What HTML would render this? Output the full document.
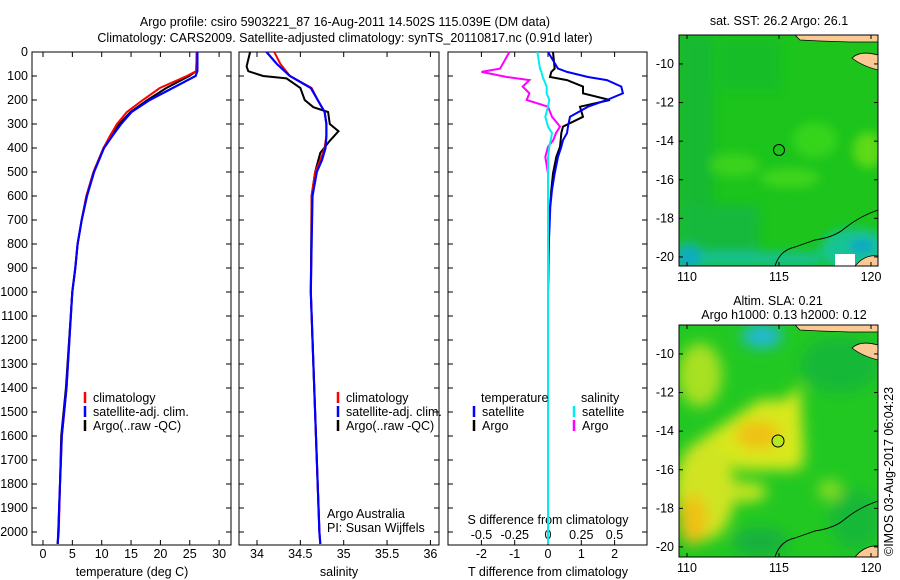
<!DOCTYPE html>
<html><head><meta charset="utf-8">
<style>
html,body{margin:0;padding:0;background:#fff;}
svg{display:block;font-family:"Liberation Sans",sans-serif;}
text{font-size:12.5px;fill:#000;}
</style></head>
<body>
<svg id="c" width="900" height="580" viewBox="0 0 900 580">
<text x="345" y="26" text-anchor="middle">Argo profile: csiro 5903221_87 16-Aug-2011 14.502S 115.039E (DM data)</text>
<text x="345" y="42" text-anchor="middle">Climatology: CARS2009. Satellite-adjusted climatology: synTS_20110817.nc (0.91d later)</text>
<g id="p1"></g>
<g id="p2"></g>
<g id="p3"></g>

<defs>
<clipPath id="m1c"><rect x="679" y="35" width="199" height="231"/></clipPath>
<clipPath id="m2c"><rect x="679" y="325" width="199" height="232"/></clipPath>
<filter id="bl" x="-50%" y="-50%" width="200%" height="200%"><feGaussianBlur stdDeviation="7"/></filter>
<filter id="bl2" x="-50%" y="-50%" width="200%" height="200%"><feGaussianBlur stdDeviation="5"/></filter>
</defs>
<text x="779" y="25" text-anchor="middle">sat. SST: 26.2 Argo: 26.1</text>
<g clip-path="url(#m1c)">
<rect x="679" y="35" width="199" height="231" fill="#1cc41c"/>
<g filter="url(#bl2)" opacity="0.85">
<rect x="679" y="35" width="35" height="231" fill="#12b836"/>
<rect x="720" y="40" width="60" height="50" fill="#15bc2a"/>
<ellipse cx="735" cy="165" rx="25" ry="12" fill="#3fd51f"/>
<ellipse cx="815" cy="140" rx="22" ry="18" fill="#3ad81c"/>
<ellipse cx="868" cy="150" rx="15" ry="18" fill="#6ade18"/>
<ellipse cx="790" cy="178" rx="30" ry="10" fill="#44d81e"/>
<rect x="679" y="205" width="80" height="61" fill="#12b842"/>
<ellipse cx="855" cy="250" rx="35" ry="22" fill="#12c4a8"/>
<ellipse cx="688" cy="258" rx="14" ry="12" fill="#10a8e0"/>
<ellipse cx="862" cy="246" rx="12" ry="6" fill="#1098f0"/>
<rect x="700" y="252" width="120" height="14" fill="#12c0a8"/>
</g>
<rect x="835" y="254" width="20" height="12" fill="#fff"/>
<path d="M878 55 Q860 50 852 58 Q862 66 878 70 Z" fill="#fbc993" stroke="#000" stroke-width="0.8"/>
<path d="M795 35 L878 35 L878 42 L850 42 L820 41 L800 40 Z" fill="#fbc993" stroke="#000" stroke-width="0.8"/>
<path d="M855 266 Q865 254 878 256 L878 266 Z" fill="#fbc993" stroke="#000" stroke-width="0.8"/>
<path d="M775 266 Q780 250 795 247 L815 240 Q835 237 845 228 Q860 216 878 210" fill="none" stroke="#000" stroke-width="0.9"/>
<circle cx="779" cy="150" r="5.5" fill="none" stroke="#000" stroke-width="1"/>
</g>
<rect x="679" y="35" width="199" height="231" fill="none" stroke="#000" stroke-width="1"/>
<g id="m1ax"></g>

<text x="778" y="305" text-anchor="middle">Altim. SLA: 0.21</text>
<text x="784" y="319" text-anchor="middle">Argo h1000: 0.13 h2000: 0.12</text>
<g clip-path="url(#m2c)">
<rect x="679" y="325" width="199" height="232" fill="#22c822"/>
<g filter="url(#bl)">
<ellipse cx="762" cy="336" rx="20" ry="12" fill="#22b8d8"/>
<ellipse cx="700" cy="375" rx="22" ry="32" fill="#a8e020"/>
<path d="M700 440 L760 400 L790 400 L800 470 L740 470 Z" fill="#d8e81c"/>
<path d="M775 410 L800 385 L805 470 Z" fill="#d8e81c"/>
<ellipse cx="758" cy="435" rx="22" ry="14" fill="#f0c018"/>
<ellipse cx="705" cy="490" rx="30" ry="50" fill="#d0e420"/>
<ellipse cx="693" cy="520" rx="14" ry="25" fill="#f0c018"/>
<ellipse cx="745" cy="492" rx="22" ry="10" fill="#c8e420"/>
<ellipse cx="830" cy="490" rx="12" ry="10" fill="#88dc20"/>
<ellipse cx="760" cy="542" rx="28" ry="14" fill="#14b040"/>
<ellipse cx="840" cy="365" rx="40" ry="28" fill="#18b838"/>
<ellipse cx="855" cy="520" rx="25" ry="30" fill="#18b838"/>
</g>
<path d="M878 345 Q860 340 852 348 Q862 356 878 360 Z" fill="#fbc993" stroke="#000" stroke-width="0.8"/>
<path d="M795 325 L878 325 L878 332 L850 332 L820 331 L800 330 Z" fill="#fbc993" stroke="#000" stroke-width="0.8"/>
<path d="M855 557 Q865 545 878 546 L878 557 Z" fill="#fbc993" stroke="#000" stroke-width="0.8"/>
<path d="M775 557 Q780 541 795 538 L815 531 Q835 528 845 519 Q860 507 878 501" fill="none" stroke="#000" stroke-width="0.9"/>
<circle cx="778" cy="441" r="6" fill="#b8e81c" stroke="#000" stroke-width="1"/>
</g>
<rect x="679" y="325" width="199" height="232" fill="none" stroke="#000" stroke-width="1"/>
<g id="m2ax"></g>
<text transform="translate(893,556) rotate(-90)">©IMOS 03-Aug-2017 06:04:23</text>
</svg>
<script>
const depthT = [0,80,100,150,200,250,300,350,400,500,600,700,800,900,1000,1400,1600,1800,2000,2050];
const tempClim = [26.2,26.1,24.5,19.9,17.0,14.3,12.6,11.4,10.3,8.6,7.4,6.6,5.9,5.5,5.0,4.0,3.2,2.9,2.7,2.5];
const tempSat  = [26.3,26.3,26.0,22.1,18.2,15.1,13.3,11.8,10.4,8.7,7.5,6.6,5.9,5.5,5.0,4.0,3.2,2.9,2.6,2.5];
const tempArgo = [26.2,26.1,24.9,21.0,17.8,14.9,13.0,11.7,10.3,8.6,7.4,6.6,5.9,5.5,5.0,3.9,3.1,2.9,2.6,2.5];
const depthS = [0,50,100,150,200,250,300,350,400,450,500,600,800,1000,1500,2000,2050];
const salClim = [34.20,34.27,34.38,34.63,34.70,34.78,34.80,34.80,34.78,34.73,34.67,34.63,34.63,34.62,34.67,34.72,34.73];
const salSat  = [34.11,34.23,34.38,34.62,34.70,34.78,34.80,34.80,34.79,34.75,34.69,34.64,34.63,34.62,34.67,34.72,34.73];
const depthSA = [0,60,80,100,110,150,200,230,250,300,330,370,420,500,600,1000,1500,2000];
const salArgo = [33.92,33.88,33.90,34.07,34.34,34.50,34.55,34.65,34.82,34.84,34.94,34.84,34.73,34.67,34.63,34.62,34.67,34.72];
const depthD = [0,69,83,104,117,144,172,200,228,270,311,338,367,395,437,506,575,645,783,1000,2050];
const dTsat  = [0.0,0.3,0.57,1.2,1.77,2.2,2.25,1.77,1.2,0.66,0.6,0.57,0.45,0.4,0.3,0.2,0.12,0.07,0.03,0.0,0.0];
const dTargo = [0.15,0.2,0.1,0.06,0.57,1.05,1.05,1.86,0.96,1.05,0.45,0.4,0.38,0.36,0.25,0.15,0.1,0.06,0.02,0.0,0.0];
const dSargo = [-0.29,-0.36,-0.5,-0.31,-0.14,-0.19,-0.14,-0.16,0.0,0.03,0.09,0.06,0.04,0.0,-0.02,0.0,0.0,0.0,0.0,0.0,0.0];
const dSsat  = [-0.08,-0.06,-0.05,-0.04,-0.03,-0.01,-0.01,0.01,0.0,-0.02,0.0,0.03,0.02,0.01,0.0,0.0,0.0,0.0,0.0,0.0,0.0];
const depthTicks = [0,100,200,300,400,500,600,700,800,900,1000,1100,1200,1300,1400,1500,1600,1700,1800,1900,2000];
const tempTicks = [0,5,10,15,20,25,30];
const salTicks = [34,34.5,35,35.5,36];
const salTickLabels = ["34","34.5","35","35.5","36"];
const dTTicks = [-2,-1,0,1,2];
const dSTicks = [-0.5,-0.25,0,0.25,0.5];
const dSTickLabels = ["-0.5","-0.25","0","0.25","0.5"];
const lonTicks = [110,115,120];
const latTicks = [-10,-12,-14,-16,-18,-20];

const NS = "http://www.w3.org/2000/svg";
const TOP = 52, BOT = 545;
const yD = d => TOP + d * 0.24;
const xT = t => 43 + t * 5.87;
const xS = s => 257 + (s - 34) * 86.7;
const xdT = t => 548 + t * 33.3;
const xdS = s => 548 + s * 133;

function mk(parent, tag, attrs) {
  const e = document.createElementNS(NS, tag);
  for (const k in attrs) e.setAttribute(k, attrs[k]);
  parent.appendChild(e);
  return e;
}
function txt(parent, x, y, s, anchor) {
  const t = mk(parent, "text", {x: x, y: y, "text-anchor": anchor || "start"});
  t.textContent = s;
  return t;
}
function line(parent, xs, ds, xf, color, w) {
  const pts = xs.map((v, i) => xf(v).toFixed(1) + "," + yD(ds[i]).toFixed(1)).join(" ");
  return mk(parent, "polyline", {points: pts, fill: "none", stroke: color, "stroke-width": w || 2, "stroke-linejoin": "miter"});
}
function frame(g, x0, x1) {
  const r = mk(g, "rect", {x: x0, y: TOP, width: x1 - x0, height: BOT - TOP, fill: "none", stroke: "#000", "stroke-width": 1});
  
  
  depthTicks.forEach(d => {
    mk(g, "line", {x1: x0, x2: x0 + 5, y1: yD(d), y2: yD(d), stroke: "#000"});
    mk(g, "line", {x1: x1, x2: x1 - 5, y1: yD(d), y2: yD(d), stroke: "#000"});
  });
}
function xticks(g, vals, labels, xf, y) {
  vals.forEach((v, i) => {
    mk(g, "line", {x1: xf(v), x2: xf(v), y1: TOP, y2: TOP + 5, stroke: "#000"});
    mk(g, "line", {x1: xf(v), x2: xf(v), y1: BOT, y2: BOT - 5, stroke: "#000"});
    const t = txt(g, xf(v), y, labels[i], "middle");
    
    
  });
}
function legendItem(g, x, y, color, label) {
  mk(g, "line", {x1: x, x2: x, y1: y - 10, y2: y + 1, stroke: color, "stroke-width": 2.5});
  const t = txt(g, x + 8, y, label);
  
  
}

const p1 = document.getElementById("p1");
frame(p1, 32, 231);
depthTicks.forEach(d => {
  const t = txt(p1, 28, yD(d) + 4, String(d), "end");
  
  
});
xticks(p1, tempTicks, tempTicks.map(String), xT, 558);
const at1 = txt(p1, 132, 576, "temperature (deg C)", "middle");


const l1 = line(p1, tempArgo, depthT, xT, "#000", 2);


const l2 = line(p1, tempClim, depthT, xT, "#f00", 2);


const l3 = line(p1, tempSat, depthT, xT, "#00f", 2.2);


legendItem(p1, 85, 402, "#f00", "climatology");
legendItem(p1, 85, 416, "#00f", "satellite-adj. clim.");
legendItem(p1, 85, 430, "#000", "Argo(..raw -QC)");

const p2 = document.getElementById("p2");
frame(p2, 239, 439);
xticks(p2, salTicks, salTickLabels, xS, 558);
const at2 = txt(p2, 339, 576, "salinity", "middle");


const s1 = line(p2, salArgo, depthSA, xS, "#000", 2);


const s2 = line(p2, salClim, depthS, xS, "#f00", 2);


const s3 = line(p2, salSat, depthS, xS, "#00f", 2.2);


legendItem(p2, 338, 402, "#f00", "climatology");
legendItem(p2, 338, 416, "#00f", "satellite-adj. clim.");
legendItem(p2, 338, 430, "#000", "Argo(..raw -QC)");
const pi1 = txt(p2, 327, 518, "Argo Australia");


const pi2 = txt(p2, 327, 532, "PI: Susan Wijffels");



const p3 = document.getElementById("p3");
frame(p3, 448, 647);
xticks(p3, dTTicks, dTTicks.map(String), xdT, 558);
dSTicks.forEach((v, i) => {
  const t = txt(p3, xdS(v), 539, dSTickLabels[i], "middle");
  
  
});
const st = txt(p3, 548, 524, "S difference from climatology", "middle");


const tt = txt(p3, 548, 576, "T difference from climatology", "middle");


const d1 = line(p3, dSargo, depthD, xdS, "#f0f", 2);


const d2 = line(p3, dTargo, depthD, xdT, "#000", 2);


const d3 = line(p3, dTsat, depthD, xdT, "#00f", 2);


const d4 = line(p3, dSsat, depthD, xdS, "#0ee", 2);


const lt = txt(p3, 481, 402, "temperature");


const ls = txt(p3, 581, 402, "salinity");


legendItem(p3, 474, 416, "#00f", "satellite");
legendItem(p3, 474, 430, "#000", "Argo");
legendItem(p3, 574, 416, "#0ee", "satellite");
legendItem(p3, 574, 430, "#f0f", "Argo");

function mapAxes(id, top, bot, latTop, latPerPx) {
  const g = document.getElementById(id);
  const xl = lon => 687 + (lon - 110) * 18.4;
  const yl = lat => top + (latTop - lat) * latPerPx;
  lonTicks.forEach(lon => {
    mk(g, "line", {x1: xl(lon), x2: xl(lon), y1: bot, y2: bot - 4, stroke: "#000"});
    mk(g, "line", {x1: xl(lon), x2: xl(lon), y1: top, y2: top + 4, stroke: "#000"});
    const t = txt(g, xl(lon), bot + 15, String(lon), "middle");
    
    
  });
  latTicks.forEach(lat => {
    mk(g, "line", {x1: 679, x2: 683, y1: yl(lat), y2: yl(lat), stroke: "#000"});
    mk(g, "line", {x1: 878, x2: 874, y1: yl(lat), y2: yl(lat), stroke: "#000"});
    const t = txt(g, 674, yl(lat) + 4, String(lat), "end");
    
    
  });
}
mapAxes("m1ax", 35, 266, -8.5, 19.3);
mapAxes("m2ax", 325, 557, -8.5, 19.3);
</script>
</body></html>
